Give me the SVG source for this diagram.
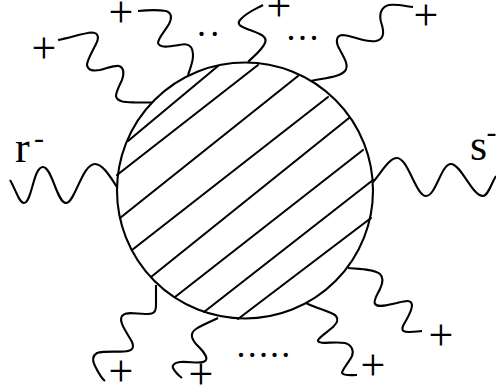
<svg xmlns="http://www.w3.org/2000/svg" width="496" height="390" viewBox="0 0 496 390">
<style>
.l{fill:none;stroke:#000;stroke-width:2.1;stroke-linecap:round;stroke-linejoin:round}
.w{fill:none;stroke:#000;stroke-width:2.1;stroke-linecap:butt}
text{font-family:"Liberation Serif","Times New Roman",serif;fill:#000}
.p{font-size:44px;text-anchor:middle}
.d{font-size:36px}
.n{font-size:44px}
.s{font-size:30px}
</style>
<rect width="496" height="390" fill="#fff"/>
<g id="connectors">
<path class="w" d="M58,40C72,37 84,33 92,32.500C99,33 99,38 96,44C92,52 87,60 87,65C88,71 94,71 100,70C108,68 115,65 119,66C125,68 124,74 122,80C119,86 116,92 116,96C117,102 125,102 135,102.500L152,102.500"/>
<path class="w" d="M138,11C148,10 160,10 166,11C172,13 172,18 169,24C165,31 158,38 158,43C160,49 172,46 182,44.500C190,43 193,48 193,56C193,62 190,69 188,75"/>
<path class="w" d="M263,5C256,9 247,12 240,20C236,25 242,27 250,30C258,33 268,36 265,43C262,50 255,55 248,62"/>
<path class="w" d="M413,7C405,6 396,4 389,5C381,7 379,14 381,22C384,31 385,39 376,41C365,43 352,35 342,35C335,36 336,44 340,50C345,59 349,66 345,71C340,77 325,78 311,81"/>
<path class="w" d="M10,180C16,190 19,203 24,203C32,203 33,167 43,167C52,167 57,203 66,203C75,203 82,164 95,164C103,164 111,178 117,187"/>
<path class="w" d="M373,182C381,173 389,158 397,158C408,158 416,196 426,196C436,196 441,164 451,164C461,164 472,196 483,196C488,196 492,182 496,176"/>
<path class="w" d="M156,285L156,305C156,314 152,314 145,314C136,314 126,311 122,316C118,322 128,334 132,342C135,349 131,351 124,351.500C115,352 103,351 97,353C92,356 92,360 95,366C98,372 102,379 105,381"/>
<path class="w" d="M218,318C208,323 200,326 196,329C190,333 191,338 196,344C202,350 208,356 206,360C203,365 190,361 180,362C174,363 172,365 173,368C175,372 178,375 182,378"/>
<path class="w" d="M306,303C318,309 332,312 336,316C339,320 337,323 333,327C326,333 317,339 318,341C320,345 333,341 345,343C352,345 354,351 352,356C349,362 342,370 342,373C344,376 350,375 357,375"/>
<path class="w" d="M348,268C360,269 374,269 380,274C384,278 383,283 380,289C377,295 373,301 375,304C378,308 388,305 397,303C405,301 411,299 412,305C412,312 406,320 403,326C401,331 404,332 409,332C415,332 421,331 422,331"/>
</g>
<g id="sphere">
<circle class="l" cx="245" cy="190.500" r="128"/>
<path class="l" d="M128,141L218,66M117,175L258,65M120,218L298,76M132,250L328,97M151,277L349,118M175,297L363,150M204,312L373,180M238,319L371,218"/>
</g>
<g id="labels">
<text class="n" x="15" y="162">r</text>
<text class="s" x="34" y="148">-</text>
<text class="n" x="470" y="160">s</text>
<text class="s" x="486.500" y="142">-</text>
<text class="p" x="44" y="63">+</text>
<text class="p" x="121" y="27">+</text>
<text class="p" x="279" y="21">+</text>
<text class="p" x="426" y="30">+</text>
<text class="p" x="121" y="386">+</text>
<text class="p" x="201" y="389">+</text>
<text class="p" x="373" y="380">+</text>
<text class="p" x="441" y="350">+</text>
<text class="d" x="197" y="36" style="letter-spacing:4.300px">..</text>
<text class="d" x="286.500" y="40" style="letter-spacing:2.500px">...</text>
<text class="d" x="236.500" y="357" style="letter-spacing:2.200px">.....</text>
</g>
</svg>
